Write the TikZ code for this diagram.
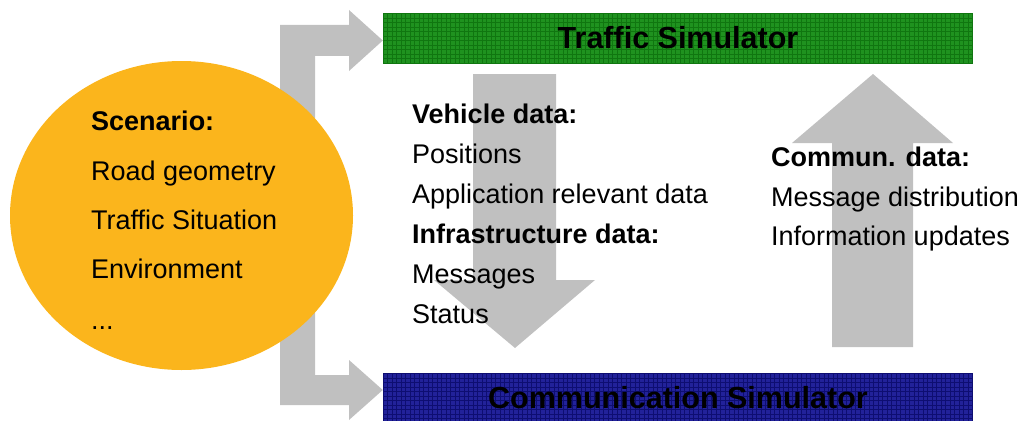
\documentclass[tikz,border=0pt]{standalone}
\usepackage{fontspec}
\setmainfont{Liberation Sans}
\usetikzlibrary{shapes.geometric}
\definecolor{scorange}{HTML}{FBB51C}
\definecolor{arrowgray}{HTML}{C0C0C0}
\definecolor{tsgreen}{HTML}{1F921F}
\definecolor{tsgreendark}{HTML}{107610}
\definecolor{csblue}{HTML}{22229A}
\definecolor{csbluedark}{HTML}{0E0E72}
\begin{document}
\begin{tikzpicture}[x=1pt,y=-1pt,
  txt/.style={anchor=base west, inner sep=0pt, font=\fontsize{27}{32}\selectfont},
  btxt/.style={anchor=base west, inner sep=0pt, font=\fontsize{27}{32}\selectfont\bfseries},
  bigarrow/.style={fill=arrowgray, draw=none},
  gridfill/.style={path picture={
    \foreach \i in {0,...,132} {
      \draw[#1, line width=0.9pt] ([xshift=\i*4.5pt]path picture bounding box.south west) -- ([xshift=\i*4.5pt]path picture bounding box.north west);
    }
    \foreach \j in {0,...,12} {
      \draw[#1, line width=0.9pt] ([yshift=\j*4.5pt]path picture bounding box.south west) -- ([yshift=\j*4.5pt]path picture bounding box.south east);
    }
  }},
  simbar/.style={minimum width=590pt, minimum height=50pt, inner sep=0pt,
    font=\fontsize{30.5}{34}\selectfont\bfseries, text=black}
]
\useasboundingbox (0,0) rectangle (1024,420);

% simulator bars
\node[simbar, fill=tsgreen, gridfill=tsgreendark] (ts) at (678,38) {Traffic Simulator};
\node[simbar, fill=csblue, gridfill=csbluedark] (cs) at (678,398) {Communication Simulator};

% bracket arrow from scenario to both simulators
\coordinate (tstip) at (ts.west |- 0,40.5);
\coordinate (cstip) at (cs.west |- 0,390);
\fill[bigarrow] (280,25) -- (349,25) -- (349,10) -- (tstip) -- (349,71) -- (349,56)
  -- (315,56) -- (315,375) -- (349,375) -- (349,360) -- (cstip) -- (349,420)
  -- (349,405) -- (280,405) -- cycle;

% scenario ellipse
\node[ellipse, fill=scorange, minimum width=343pt, minimum height=309pt, inner sep=0pt] (scen) at (181.5,215.5) {};

% down arrow (traffic -> communication)
\fill[bigarrow] (473,74) -- (556,74) -- (556,280) -- (595,280) -- (515,348) -- (434,280) -- (473,280) -- cycle;
% up arrow (communication -> traffic)
\fill[bigarrow] (832,347) -- (913,347) -- (913,143) -- (953,143) -- (873,74) -- (792,143) -- (832,143) -- cycle;

% scenario text
\node[btxt] (s1) at (91,130) {Scenario:};
\node[txt] (s2) at (91,180) {Road geometry};
\node[txt] (s3) at (91,229) {Traffic Situation};
\node[txt] (s4) at (91,278) {Environment};
\node[txt] (s5) at (91,329) {...};

% middle text
\node[btxt] (m1) at (412,123) {Vehicle data:};
\node[txt] (m2) at (412,163) {Positions};
\node[txt] (m3) at (412,203) {Application relevant data};
\node[btxt] (m4) at (412,243) {Infrastructure data:};
\node[txt] (m5) at (412,283) {Messages};
\node[txt] (m6) at (412,323) {Status};

% right text
\node[btxt] (r1) at (771,166) {Commun. data:};
\node[txt] (r2) at (771,206) {Message distribution};
\node[txt] (r3) at (771,245) {Information updates};
\end{tikzpicture}
\end{document}
